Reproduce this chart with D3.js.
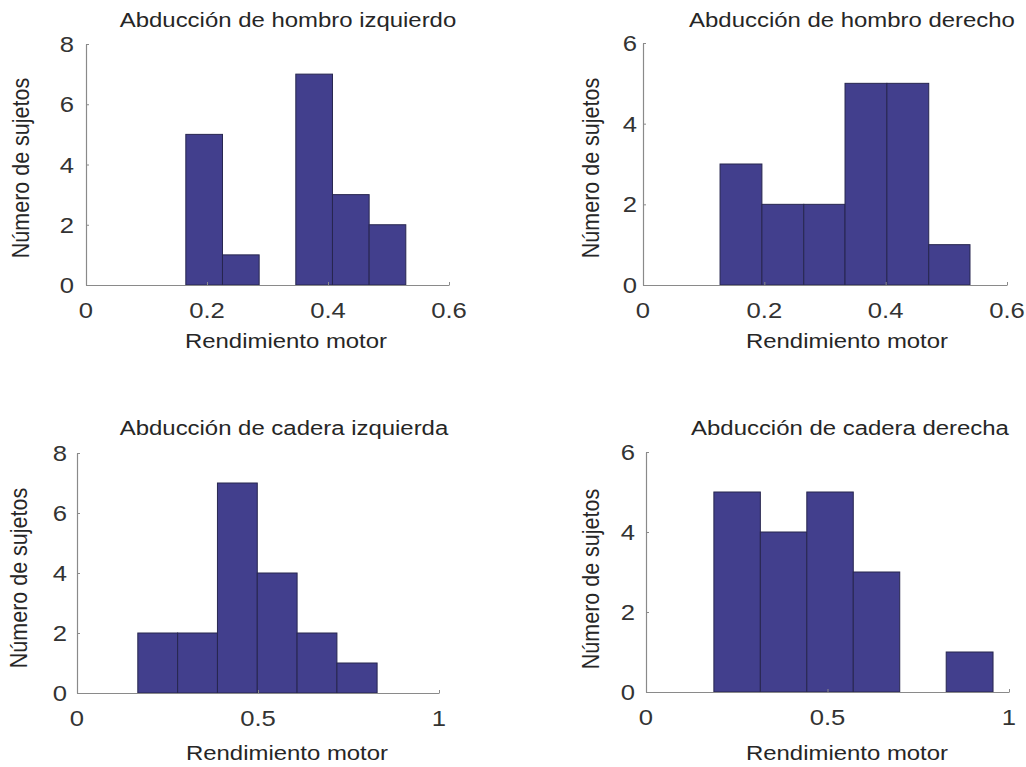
<!DOCTYPE html>
<html>
<head>
<meta charset="utf-8">
<script src="https://cdn.jsdelivr.net/npm/d3@7"></script>
<style>
  html, body { margin: 0; padding: 0; background: #fff; }
  svg { display: block; }
  text { font-family: "Liberation Sans", Arial, sans-serif; }
</style>
</head>
<body>
<svg id="chart" width="1026" height="767"></svg>
<script>
// ---------- data ----------
const titles = [
  "Abducción de hombro izquierdo",
  "Abducción de hombro derecho",
  "Abducción de cadera izquierda",
  "Abducción de cadera derecha"
];
const xLabel = "Rendimiento motor";
const yLabel = "Número de sujetos";

const hombroIzqEdges  = [0.165, 0.2256, 0.2862, 0.3468, 0.4074, 0.468, 0.5286];
const hombroIzqCounts = [5, 1, 0, 7, 3, 2];
const hombroDerEdges  = [0.127, 0.196, 0.265, 0.333, 0.402, 0.471, 0.539];
const hombroDerCounts = [3, 2, 2, 5, 5, 1];
const caderaIzqEdges  = [0.168, 0.278, 0.388, 0.498, 0.608, 0.718, 0.829];
const caderaIzqCounts = [2, 2, 7, 4, 2, 1];
const caderaDerEdges  = [0.187, 0.315, 0.443, 0.571, 0.699, 0.827, 0.956];
const caderaDerCounts = [5, 4, 5, 3, 0, 1];

const xTicksHombro = [0, 0.2, 0.4, 0.6];
const xTicksCadera = [0, 0.5, 1];
const yTicks8 = [0, 2, 4, 6, 8];
const yTicks6 = [0, 2, 4, 6];

// ---------- layout ----------
const panels = [
  { title: titles[0], edges: hombroIzqEdges, counts: hombroIzqCounts, xMax: 0.6, yMax: 8,
    xTicks: xTicksHombro, yTicks: yTicks8,
    x0: 86, x1: 449, yT: 44, yB: 285, titleX: 288, titleY: 27, xlabX: 286, xlabY: 348,
    ylabX: 29, ylabY: 168, yTickGap: 12 },
  { title: titles[1], edges: hombroDerEdges, counts: hombroDerCounts, xMax: 0.6, yMax: 6,
    xTicks: xTicksHombro, yTicks: yTicks6,
    x0: 643, x1: 1007, yT: 43, yB: 285, titleX: 852, titleY: 27, xlabX: 847, xlabY: 348,
    ylabX: 599, ylabY: 168, yTickGap: 6 },
  { title: titles[2], edges: caderaIzqEdges, counts: caderaIzqCounts, xMax: 1, yMax: 8,
    xTicks: xTicksCadera, yTicks: yTicks8,
    x0: 77, x1: 439, yT: 453, yB: 693, titleX: 284, titleY: 435, xlabX: 287, xlabY: 760,
    ylabX: 27, ylabY: 578, yTickGap: 10 },
  { title: titles[3], edges: caderaDerEdges, counts: caderaDerCounts, xMax: 1, yMax: 6,
    xTicks: xTicksCadera, yTicks: yTicks6,
    x0: 646, x1: 1009, yT: 452, yB: 692, titleX: 850, titleY: 435, xlabX: 847, xlabY: 760,
    ylabX: 599, ylabY: 579, yTickGap: 11 }
];

const SX = 1.14;           // horizontal stretch of the original picture
const barFill = "#423f8d";
const barStroke = "#27264f";
const axisColor = "#8a8a8a";
const textColor = "#262626";

const svg = d3.select("#chart");

panels.forEach(p => {
  const x = d3.scaleLinear().domain([0, p.xMax]).range([p.x0, p.x1]);
  const y = d3.scaleLinear().domain([0, p.yMax]).range([p.yB, p.yT]);
  const g = svg.append("g");

  // bars
  const bins = p.counts.map((c, i) => ({ x0: p.edges[i], x1: p.edges[i + 1], c }));
  g.selectAll("rect.bar").data(bins.filter(b => b.c > 0)).join("rect")
    .attr("class", "bar")
    .attr("x", d => x(d.x0))
    .attr("width", d => x(d.x1) - x(d.x0))
    .attr("y", d => y(d.c))
    .attr("height", d => y(0) - y(d.c))
    .attr("fill", barFill)
    .attr("stroke", barStroke)
    .attr("stroke-width", 1);

  // axes (lines and inward ticks)
  const xAx = g.append("g").attr("transform", `translate(0,${p.yB})`)
    .call(d3.axisBottom(x).tickValues(p.xTicks).tickSizeInner(-3).tickSizeOuter(0).tickFormat(""));
  const yAx = g.append("g").attr("transform", `translate(${p.x0},0)`)
    .call(d3.axisLeft(y).tickValues(p.yTicks).tickSizeInner(-3).tickSizeOuter(0).tickFormat(""));
  [xAx, yAx].forEach(a => {
    a.select(".domain").attr("stroke", axisColor).attr("stroke-width", 1.2);
    a.selectAll(".tick line").attr("stroke", axisColor);
  });

  // tick labels (stretched horizontally like the original)
  g.selectAll("text.xt").data(p.xTicks).join("text")
    .attr("class", "xt")
    .attr("transform", d => `translate(${x(d)},${p.yB + 33}) scale(${SX},1)`)
    .attr("text-anchor", "middle")
    .attr("font-size", 22.5)
    .attr("fill", "#333")
    .text(d => d3.format("")(d));
  g.selectAll("text.yt").data(p.yTicks).join("text")
    .attr("class", "yt")
    .attr("transform", d => `translate(${p.x0 - p.yTickGap},${y(d) + 8}) scale(${SX},1)`)
    .attr("text-anchor", "end")
    .attr("font-size", 22.5)
    .attr("fill", "#333")
    .text(d => d);

  // title
  g.append("text")
    .attr("transform", `translate(${p.titleX},${p.titleY}) scale(${SX},1)`)
    .attr("text-anchor", "middle")
    .attr("font-size", 21)
    .attr("fill", textColor)
    .text(p.title);

  // x label
  g.append("text")
    .attr("transform", `translate(${p.xlabX},${p.xlabY}) scale(${SX},1)`)
    .attr("text-anchor", "middle")
    .attr("font-size", 21)
    .attr("fill", textColor)
    .text(xLabel);

  // y label
  g.append("text")
    .attr("transform", `translate(${p.ylabX},${p.ylabY}) scale(${SX},1) rotate(-90)`)
    .attr("text-anchor", "middle")
    .attr("font-size", 21.5)
    .attr("fill", textColor)
    .text(yLabel);
});
</script>
</body>
</html>
